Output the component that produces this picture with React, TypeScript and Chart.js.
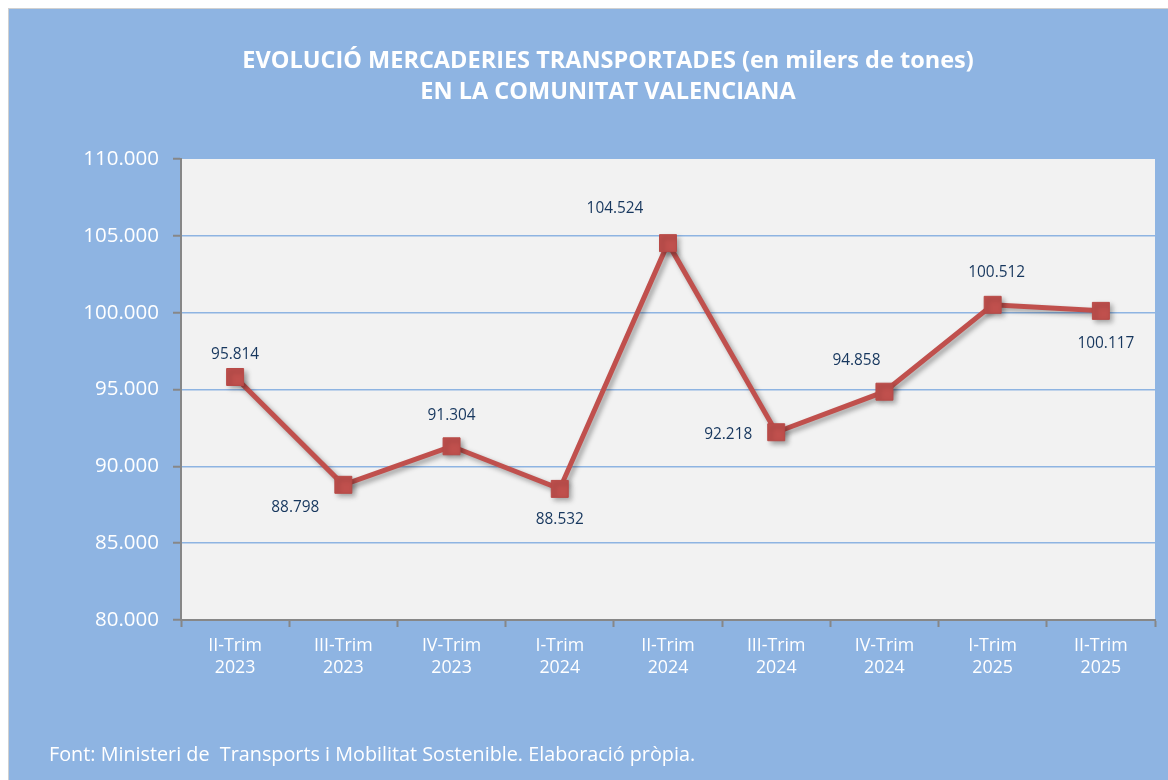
import React, { useEffect, useRef } from "react";
import { Chart, registerables } from "chart.js";

Chart.register(...registerables);

const categories: string[][] = [
  ["II-Trim", "2023"],
  ["III-Trim", "2023"],
  ["IV-Trim", "2023"],
  ["I-Trim", "2024"],
  ["II-Trim", "2024"],
  ["III-Trim", "2024"],
  ["IV-Trim", "2024"],
  ["I-Trim", "2025"],
  ["II-Trim", "2025"],
];

const tonnes: number[] = [95814, 88798, 91304, 88532, 104524, 92218, 94858, 100512, 100117];

const titleLines: string[] = [
  "EVOLUCIÓ MERCADERIES TRANSPORTADES (en milers de tones)",
  "EN LA COMUNITAT VALENCIANA",
];
const sourceNote = "Font: Ministeri de  Transports i Mobilitat Sostenible. Elaboració pròpia.";

// label offsets relative to each point (style only)
const labelOffsets: [number, number][] = [
  [0, -22],
  [-48, 23],
  [0, -31],
  [0, 31],
  [-53, -35],
  [-48, 2],
  [-28, -31],
  [4, -32],
  [5, 33],
];

const BLUE = "#8EB4E2";
const RED = "#C0504D";
const AXIS = "#878787";
const FONT = "'Open Sans', 'Noto Sans', sans-serif";

const fmt = (v: number) => String(Math.round(v)).replace(/\B(?=(\d{3})+(?!\d))/g, ".");

export default function App() {
  const ref = useRef<HTMLCanvasElement | null>(null);

  useEffect(() => {
    if (!ref.current) return;
    const decor = {
      id: "decor",
      beforeDraw(chart: any) {
        const { ctx, chartArea, width, height } = chart;
        ctx.save();
        ctx.fillStyle = BLUE;
        ctx.fillRect(0, 0, width, height);
        ctx.fillStyle = "#F2F2F2";
        ctx.fillRect(chartArea.left, chartArea.top, chartArea.right - chartArea.left, chartArea.bottom - chartArea.top);
        ctx.fillStyle = "#FFFFFF";
        ctx.textAlign = "center";
        ctx.textBaseline = "middle";
        ctx.font = `bold 23.5px ${FONT}`;
        ctx.fillText(titleLines[0], 599, 52);
        ctx.fillText(titleLines[1], 599, 83);
        ctx.textAlign = "left";
        ctx.font = `19.8px ${FONT}`;
        ctx.fillText(sourceNote, 40, 746);
        ctx.restore();
      },
      beforeDatasetsDraw(chart: any) {
        const ctx = chart.ctx;
        ctx.save();
        ctx.shadowColor = "rgba(0,0,0,0.35)";
        ctx.shadowBlur = 5;
        ctx.shadowOffsetX = 3;
        ctx.shadowOffsetY = 3;
      },
      afterDatasetsDraw(chart: any) {
        const ctx = chart.ctx;
        ctx.restore();
        const meta = chart.getDatasetMeta(0);
        ctx.save();
        ctx.fillStyle = "#17375E";
        ctx.font = `15.4px ${FONT}`;
        ctx.textAlign = "center";
        ctx.textBaseline = "middle";
        meta.data.forEach((pt: any, i: number) => {
          const [dx, dy] = labelOffsets[i];
          ctx.fillText(fmt(tonnes[i]), pt.x + dx, pt.y + dy);
        });
        ctx.restore();
      },
    };

    const chart = new Chart(ref.current, {
      type: "line",
      data: {
        labels: categories,
        datasets: [
          {
            data: tonnes,
            borderColor: RED,
            backgroundColor: RED,
            borderWidth: 5,
            pointStyle: "rect",
            pointRadius: 12,
            pointBorderWidth: 1,
            pointBorderColor: "#B84A47",
            pointBackgroundColor: RED,
            tension: 0,
          },
        ],
      },
      options: {
        responsive: false,
        animation: false,
        layout: { padding: { left: 72, top: 150, right: 12, bottom: 60 } },
        plugins: {
          legend: { display: false },
          title: { display: false },
          tooltip: { enabled: false },
        },
        scales: {
          x: {
            offset: true,
            grid: {
              offset: true,
              drawOnChartArea: false,
              tickLength: 7,
              tickColor: AXIS,
              tickWidth: 2,
            },
            border: { color: AXIS, width: 2 },
            ticks: {
              color: "#FFFFFF",
              font: { family: FONT, size: 17.8, lineHeight: 1.24 },
              maxRotation: 0,
              padding: 8,
            },
            afterFit(scale: any) {
              scale.height = 100;
            },
          },
          y: {
            min: 80000,
            max: 110000,
            ticks: {
              stepSize: 5000,
              color: "#FFFFFF",
              font: { family: FONT, size: 20.5 },
              padding: 14,
              callback: (v: any) => fmt(Number(v)),
            },
            grid: {
              color: (c: any) =>
                c.tick && (c.tick.value === 80000 || c.tick.value === 110000) ? "rgba(0,0,0,0)" : "#8EB4E2",
              lineWidth: 1.5,
              tickLength: 8,
              tickColor: AXIS,
              tickWidth: 2,
            },
            border: { color: AXIS, width: 2 },
            afterFit(scale: any) {
              scale.width = 100;
            },
          },
        },
      },
      plugins: [decor],
    } as any);

    return () => chart.destroy();
  }, []);

  return (
    <div style={{ position: "fixed", left: 8, top: 8, width: 1160, height: 772, background: BLUE, borderLeft: "1px solid #D0D0D0", borderTop: "1px solid #D0D0D0", boxSizing: "border-box" }}>
      <canvas ref={ref} width={1159} height={771} style={{ display: "block" }} />
    </div>
  );
}
